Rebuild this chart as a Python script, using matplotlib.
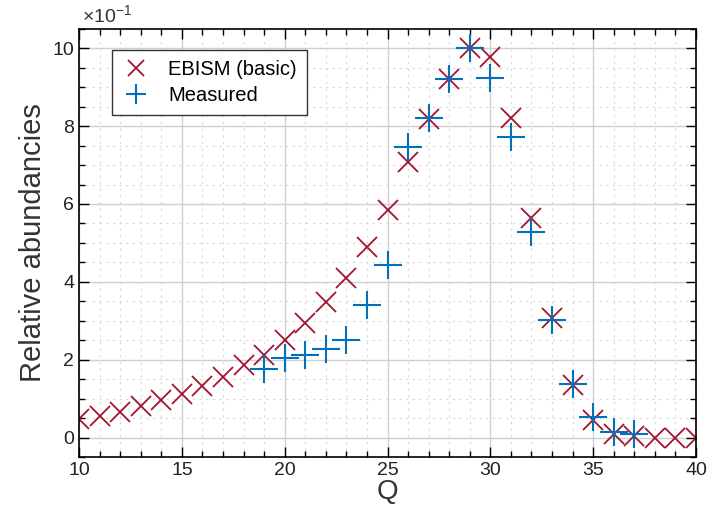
import matplotlib.pyplot as plt
from matplotlib.ticker import MultipleLocator

plt.rcParams['font.family'] = ['Liberation Sans', 'DejaVu Sans']
plt.rcParams['mathtext.default'] = 'regular'

# charge states and relative abundances (in units of 1e-1)
z_model = list(range(10, 41))
ebism = [0.47, 0.56, 0.65, 0.8, 0.96, 1.13, 1.33, 1.56, 1.86, 2.13, 2.51,
         2.93, 3.47, 4.1, 4.9, 5.84, 7.08, 8.18, 9.21, 10.0, 9.77, 8.2,
         5.65, 3.08, 1.36, 0.45, 0.1, 0.03, 0.0, 0.0, 0.0]

z_meas = list(range(19, 38))
measured = [1.76, 2.05, 2.12, 2.28, 2.51, 3.41, 4.44, 7.46, 8.2, 9.22, 10.0,
            9.24, 7.71, 5.28, 3.02, 1.38, 0.52, 0.13, 0.1]

red = '#A2142F'
blue = '#0072BD'

fig = plt.figure(figsize=(7.19, 5.05), dpi=100)
ax = fig.add_axes([0.110, 0.095, 0.858, 0.848])

ax.plot(z_model, ebism, linestyle='none', marker='x', color=red,
        markersize=15, markeredgewidth=1.3, label='EBISM (basic)')
ax.plot(z_meas, measured, linestyle='none', marker='+', color=blue,
        markersize=20, markeredgewidth=1.5, label='Measured')

ax.set_xlim(10, 40)
ax.set_ylim(-0.5, 10.5)
ax.xaxis.set_major_locator(MultipleLocator(5))
ax.xaxis.set_minor_locator(MultipleLocator(1))
ax.yaxis.set_major_locator(MultipleLocator(2))
ax.yaxis.set_minor_locator(MultipleLocator(0.5))

ax.grid(which='major', color='#d0d0d0', linewidth=1.0)
ax.grid(which='minor', color='#d8d8d8', linestyle=(0, (2, 4)), linewidth=0.8)
ax.set_axisbelow(True)

ax.tick_params(which='both', direction='in', top=True, right=True,
               labelsize=14, width=1, labelcolor='#222222')
ax.tick_params(which='major', length=7)
ax.tick_params(which='minor', length=4)
for s in ax.spines.values():
    s.set_linewidth(1.2)

ax.set_ylabel('Relative abundancies', fontsize=21, color='#333333')
ax.set_xlabel('Q', fontsize=20, color='#333333', labelpad=0)

ax.text(0.004, 1.006, '\u00d710$^{-1}$', transform=ax.transAxes,
        fontsize=14, va='bottom', ha='left', color='#333333')

leg = ax.legend(loc='upper left', bbox_to_anchor=(0.037, 0.975), fontsize=14.5,
                frameon=True, fancybox=False, edgecolor='#333333',
                framealpha=1, borderpad=0.5, labelspacing=0.35,
                handlelength=1.4, handletextpad=0.9, markerscale=0.75)
leg.get_frame().set_linewidth(1.0)

fig.savefig('out.png', dpi=100)
